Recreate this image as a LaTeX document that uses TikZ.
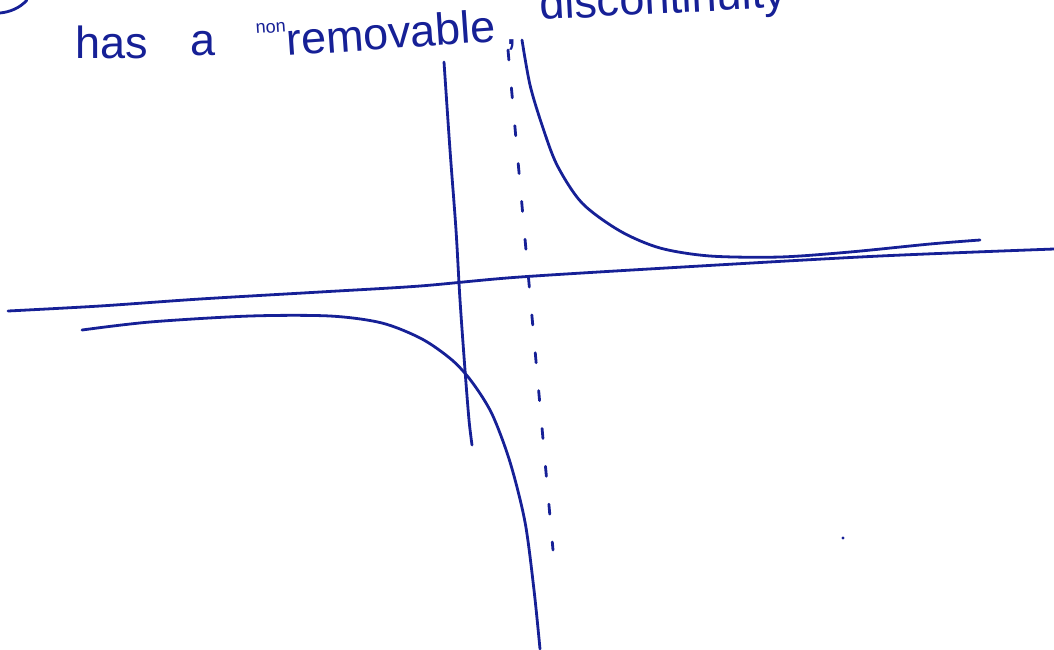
\documentclass[tikz,border=0pt]{standalone}
\usepackage{fontspec}
\setmainfont{Liberation Sans}
\usepackage{xcolor}
\usetikzlibrary{positioning}
\definecolor{pen}{RGB}{22,32,150}

\begin{document}
\begin{tikzpicture}[
    x=1pt, y=-1pt,
    ink/.style={draw=pen, line width=2.8pt, line cap=round, line join=round},
    asym/.style={ink, dash pattern=on 10pt off 28pt},
    words/.style={text=pen, font=\fontsize{45}{50}\selectfont, inner sep=0pt, anchor=base west},
    small words/.style={words, font=\fontsize{18}{22}\selectfont},
]
    \useasboundingbox (0,0) rectangle (1054,649);
    \clip (0,0) rectangle (1054,649);

    % Heading (cut off at the top)
    \draw[ink] (0,13) .. controls (10,12) and (20,8) .. (27,0);
    \node[words] (has) at (75,58) {has};
    \node[words] (art) at (190,55) {a};
    \node[small words, rotate=4] (non) at (256,34) {non};
    \node[words, rotate=4] (remov) at (287,56) {removable};
    \node[words] (comma) at (505,44) {,};
    \node[words, rotate=3] (disc) at (540,20) {discontinuity};

    % Axes
    \draw[ink] plot[smooth] coordinates {(8,311) (100,306) (200,299) (320,292) (420,286) (520,277) (700,266) (880,256) (1054,249)};
    \draw[ink] plot[smooth] coordinates {(444,62) (450,150) (456,230) (460,300) (465,370) (469,420) (472,445)};

    % Vertical asymptote
    \draw[asym] (508,50) -- (553,550);

    % Upper branch
    \draw[ink] plot[smooth] coordinates {(522,40) (530,85) (542,125) (557,165) (582,203) (620,231) (660,248) (710,256) (780,257) (850,252) (930,244) (980,240)};

    % Lower branch
    \draw[ink] plot[smooth] coordinates {(82,330) (150,322) (250,316) (330,316) (382,323) (422,339) (452,360) (472,382) (492,414) (510,462) (525,522) (534,590) (540,649)};

    % Stray dot
    \fill[pen] (843,538) circle (1.6pt);
\end{tikzpicture}
\end{document}
